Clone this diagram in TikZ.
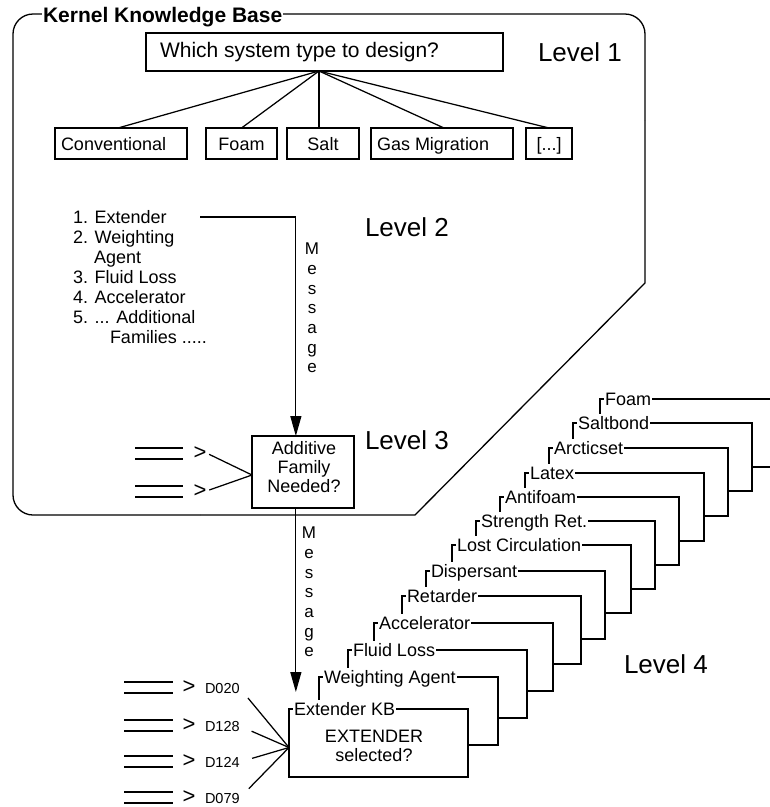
\documentclass[tikz,border=0pt]{standalone}
\usepackage{fontspec}
\setmainfont{Liberation Sans}
\usetikzlibrary{arrows.meta,calc}

\begin{document}
\begin{tikzpicture}[x=1pt,y=-1pt,
  line width=1.25pt,
  every node/.style={inner sep=0pt, outer sep=0pt},
  box/.style={draw, fill=white},
  rowbox/.style={box, minimum height=31pt, text height=13pt, text depth=0pt,
                 font=\fontsize{18}{20}\selectfont},
  level/.style={anchor=base west, font=\fontsize{26}{28}\selectfont},
  card/.style={draw, fill=white, anchor=north west,
               minimum width=179pt, minimum height=68pt},
  cardlabel/.style={fill=white, anchor=west, inner xsep=1pt, inner ysep=3pt,
                    text height=13pt, text depth=0pt,
                    font=\fontsize{18}{20}\selectfont},
  msg/.style={arrows={-Triangle[length=20pt,width=11pt]}},
  dbl/.style={line width=2pt},
  gt/.style={font=\fontsize{22}{22}\selectfont},
  dtag/.style={anchor=west, font=\fontsize{14.5}{16}\selectfont},
  vword/.style={anchor=north, align=center, font=\fontsize{17}{19.7}\selectfont},
]
\path[fill=white] (0,0) rectangle (770,807);
\useasboundingbox (0,0) rectangle (770,807);

% ---- Kernel knowledge base frame ----
\draw[line width=1.3pt, rounded corners=20pt]
  (200,515) -- (13,515) -- (13,14) -- (645,14) -- (645,120);
\draw[line width=1.3pt] (645,120) -- (645,283) -- (415,515) -- (200,515);
\node[fill=white, inner xsep=1pt, inner ysep=2pt, anchor=base west,
      font=\bfseries\fontsize{21}{22}\selectfont] (kkb) at (42,22) {Kernel Knowledge Base};

% ---- Level 1 ----
\node[box, minimum height=38pt, inner xsep=14pt, text height=14pt, text depth=4pt,
      font=\fontsize{21}{22}\selectfont] (q1) at (324.5,52)
      {\makebox[329pt][l]{Which system type to design?}};
\node[level] (lev1) at (538,61) {Level 1};

\node[rowbox, inner xsep=6pt] (conv) at (121,143.5) {\makebox[120pt][l]{Conventional}};
\node[rowbox, minimum width=71pt] (foam) at (241.5,143.5) {Foam};
\node[rowbox, minimum width=72pt] (salt) at (323,143.5) {Salt};
\node[rowbox, inner xsep=6pt] (gas) at (442,143.5) {\makebox[130pt][l]{Gas Migration}};
\node[rowbox, minimum width=46pt] (more) at (549,143.5) {[...]};

\coordinate (hub) at ($(q1.south)+(-5.5,0)$);
\draw (hub) -- ([xshift=-3pt]conv.north);
\draw (hub) -- (foam.north);
\draw (hub) -- (hub |- salt.north);
\draw (hub) -- ([xshift=2pt]gas.north);
\draw (hub) -- (more.north);

% ---- Level 2 ----
\node[anchor=north west, align=left, font=\fontsize{18}{20}\selectfont] (fam) at (73,210)
  {1. Extender\\
   2. Weighting\\
   \hspace*{21pt}Agent\\
   3. Fluid Loss\\
   4. Accelerator\\
   5. ... Additional\\
   \hspace*{37pt}Families .....};
\node[level] (lev2) at (365,236) {Level 2};

% ---- Level 3 ----
\node[box, minimum width=102pt, minimum height=72pt] (lv3box) at (303,472) {};
\node[align=center, font=\fontsize{18}{19}\selectfont] (lv3txt) at (304,467)
  {Additive\\Family\\Needed?};
\node[level] (lev3) at (365,449) {Level 3};

\coordinate (src) at (200,217);
\coordinate (lv3in) at ($(lv3box.north west)!0.43!(lv3box.north east)$);
\draw[msg] (src) -| (lv3in);
\node[vword] (msg1) at (312,243) {M\\e\\s\\s\\a\\g\\e};

\draw[dbl] (135,448) -- (183,448);
\draw[dbl] (135,459) -- (183,459);
\draw[dbl] (135,486) -- (183,486);
\draw[dbl] (135,497) -- (183,497);
\node[gt] (gtA) at (200,453) {>};
\node[gt] (gtB) at (200,491) {>};
\coordinate (lv3left) at ($(lv3box.west)+(0,3)$);
\draw[shorten <=3pt] (gtA.east) -- (lv3left);
\draw[shorten <=3pt] (gtB.east) -- (lv3left);

% ---- Level 4: stacked knowledge bases ----
\foreach \nm/\lx/\ty/\lab in {
   c01/600/399/Foam, c02/573/423/Saltbond, c03/549/448/Arcticset,
   c04/525/473/Latex, c05/500/497/Antifoam, c06/476/521/Strength Ret.,
   c07/452/545/Lost Circulation, c08/426/571/Dispersant, c09/402/596/Retarder,
   c10/374/623/Accelerator, c11/348/650/Fluid Loss, c12/319/677/Weighting Agent,
   c13/289/709/Extender KB}
{
  \node[card] (\nm) at (\lx,\ty) {};
  \node[cardlabel] (lab\nm) at (\lx+4,\ty) {\lab};
}
\node[align=center, font=\fontsize{18}{19}\selectfont] (exttxt) at (374,745.5)
  {EXTENDER\\selected?};
\node[level] (lev4) at (624,673) {Level 4};

\coordinate (lv3out) at ($(lv3box.south west)!0.43!(lv3box.south east)$);
\coordinate (extarr) at (lv3out |- 0,692);
\draw[msg] (lv3out) -- (extarr);
\node[vword] (msg2) at (309,527) {M\\e\\s\\s\\a\\g\\e};

% ---- additive inputs ----
\coordinate (extleft) at ($(c13.west)+(0,4.5)$);
\foreach \dn/\dy in {D020/687, D128/725, D124/761, D079/797}
{
  \draw[dbl] (124,\dy-5.5) -- (173,\dy-5.5);
  \draw[dbl] (124,\dy+5.5) -- (173,\dy+5.5);
  \node[gt] (gt\dn) at (189,\dy) {>};
  \node[dtag] (\dn) at (205,\dy+1) {\dn};
  \draw[shorten <=13pt] (\dn.east) -- (extleft);
}
\end{tikzpicture}
\end{document}
